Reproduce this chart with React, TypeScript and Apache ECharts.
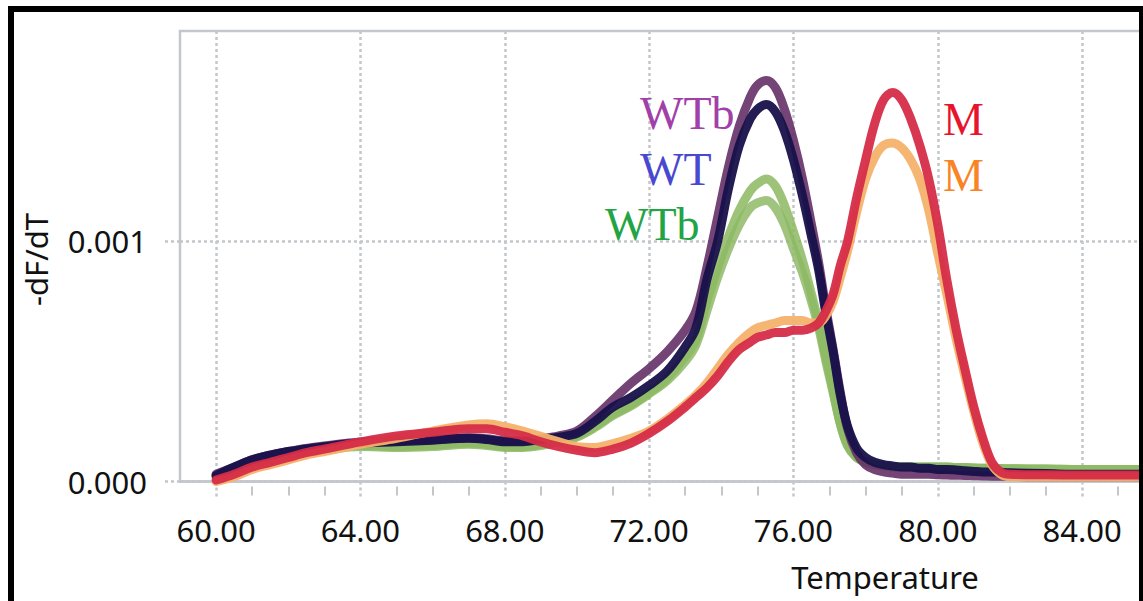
import React, { useEffect, useRef } from 'react';
import * as echarts from 'echarts';

const temps = [60, 60.5, 61, 61.5, 62, 62.5, 63, 64, 65, 66, 67, 67.5, 68, 68.5, 69, 69.5, 70, 70.5, 71, 71.5, 72, 72.5, 73, 73.3, 73.6, 73.9, 74.2, 74.5, 74.8, 75.0, 75.25, 75.5, 75.75, 76.0, 76.25, 76.5, 76.7, 76.9, 77.1, 77.3, 77.5, 77.75, 78.0, 78.25, 78.5, 78.75, 79.0, 79.25, 79.5, 79.75, 80.0, 80.25, 80.5, 80.75, 81.0, 81.25, 81.5, 81.75, 82, 83, 84, 85, 85.66];

const wtbGreenB = [0.00002, 0.00005, 0.00008, 0.0001, 0.000112, 0.000122, 0.000132, 0.000146, 0.000142, 0.000146, 0.000155, 0.00015, 0.000142, 0.000142, 0.00015, 0.000165, 0.000185, 0.000225, 0.000275, 0.000315, 0.000365, 0.00042, 0.0005, 0.00057, 0.00071, 0.00085, 0.00097, 0.00107, 0.00114, 0.00116, 0.00117, 0.00114, 0.00107, 0.00097, 0.00087, 0.00075, 0.00064, 0.0005, 0.00037, 0.00024, 0.00015, 0.0001, 0.00008, 0.00007, 0.000065, 0.00006, 0.00006, 0.00006, 0.00006, 0.00006, 0.00006, 0.00006, 0.000058, 0.000058, 0.000056, 0.000055, 0.000055, 0.000054, 0.000053, 0.000052, 0.00005, 0.00005, 0.00005];
const wtbGreenA = [0.00002, 0.00005, 0.00008, 0.0001, 0.000115, 0.000125, 0.000135, 0.00015, 0.000145, 0.00015, 0.00016, 0.000155, 0.000145, 0.000145, 0.000155, 0.00017, 0.00019, 0.00023, 0.00028, 0.00032, 0.00037, 0.00043, 0.00052, 0.00059, 0.00075, 0.00089, 0.00102, 0.00113, 0.00121, 0.00124, 0.00126, 0.00123, 0.00115, 0.00104, 0.00092, 0.00078, 0.00066, 0.00052, 0.00038, 0.00024, 0.00015, 0.0001, 0.00008, 0.00007, 0.000065, 0.00006, 0.00006, 0.00006, 0.00006, 0.00006, 0.00006, 0.00006, 0.000058, 0.000058, 0.000056, 0.000055, 0.000055, 0.000054, 0.000053, 0.000052, 0.00005, 0.00005, 0.00005];
const wtbPurple = [0.00003, 0.00006, 0.00009, 0.00011, 0.000125, 0.000138, 0.000148, 0.000165, 0.00017, 0.000175, 0.000182, 0.000178, 0.00017, 0.00017, 0.000178, 0.00019, 0.00021, 0.00027, 0.00034, 0.00041, 0.00047, 0.00054, 0.00063, 0.00071, 0.00089, 0.0011, 0.00131, 0.00148, 0.0016, 0.00165, 0.00167, 0.00164, 0.00155, 0.00142, 0.00126, 0.00107, 0.00091, 0.00072, 0.00055, 0.00037, 0.00022, 0.00012, 0.00007, 0.00005, 0.00004, 0.000035, 0.00003, 0.00003, 0.00003, 0.00003, 0.000028, 0.000027, 0.000026, 0.000025, 0.000024, 0.000023, 0.000022, 0.000022, 0.000021, 0.00002, 0.00002, 0.00002, 0.00002];
const wtNavy = [0.000025, 0.00006, 0.00009, 0.00011, 0.000125, 0.000135, 0.000145, 0.00016, 0.000165, 0.000172, 0.00018, 0.000175, 0.000166, 0.000166, 0.000175, 0.000185, 0.0002, 0.00025, 0.00031, 0.00035, 0.0004, 0.00046, 0.00056, 0.00064, 0.00084, 0.001, 0.00122, 0.0014, 0.00151, 0.00155, 0.00157, 0.00154, 0.00146, 0.00134, 0.00119, 0.00102, 0.00088, 0.0007, 0.00054, 0.00036, 0.00023, 0.00014, 0.0001, 0.00008, 0.00007, 0.000065, 0.00006, 0.00006, 0.000055, 0.000055, 0.00005, 0.00005, 0.000048, 0.000045, 0.000042, 0.00004, 0.00004, 0.000038, 0.000036, 0.000033, 0.00003, 0.00003, 0.00003];
const mOrange = [0.0, 0.00002, 0.00005, 0.00007, 0.00009, 0.00011, 0.000125, 0.000155, 0.00018, 0.00021, 0.000235, 0.00024, 0.000228, 0.00021, 0.000188, 0.000165, 0.000145, 0.000142, 0.000158, 0.00018, 0.00021, 0.00026, 0.00032, 0.00036, 0.00041, 0.00047, 0.00053, 0.00058, 0.00062, 0.00064, 0.00065, 0.00066, 0.00067, 0.00067, 0.00067, 0.00066, 0.00066, 0.00069, 0.00075, 0.00085, 0.00096, 0.00112, 0.00126, 0.00135, 0.0014, 0.00141, 0.00139, 0.00134, 0.00126, 0.00113, 0.00095, 0.00078, 0.0006, 0.00044, 0.00029, 0.00016, 0.00007, 0.00003, 0.00002, 0.00002, 0.00002, 0.00002, 0.00002];
const mRed = [0.000006, 0.00003, 0.00006, 0.00008, 0.0001, 0.00012, 0.000135, 0.000165, 0.00019, 0.000205, 0.00022, 0.00022, 0.000205, 0.00019, 0.000165, 0.000145, 0.00013, 0.00012, 0.000135, 0.00016, 0.0002, 0.00025, 0.00031, 0.00035, 0.00039, 0.00044, 0.0005, 0.00055, 0.00058, 0.0006, 0.00061, 0.00062, 0.00062, 0.00063, 0.00063, 0.00064, 0.00066, 0.00071, 0.00078, 0.0009, 0.001, 0.00118, 0.00134, 0.00149, 0.00159, 0.00162, 0.00159, 0.00151, 0.0014, 0.00126, 0.00107, 0.00084, 0.00064, 0.00047, 0.00031, 0.00018, 0.00008, 0.00004, 0.00003, 0.000028, 0.000027, 0.000027, 0.000027];

const xTickValues = [60, 64, 68, 72, 76, 80, 84];
const xMinorTickValues = [61, 62, 63, 65, 66, 67, 69, 70, 71, 73, 74, 75, 77, 78, 79, 81, 82, 83, 85];
const yTickValues = [0, 0.001];

const seriesDefs = [
  { name: 'WTb green B', values: wtbGreenB, color: '#8fba67', opacity: 0.85 },
  { name: 'WTb green A', values: wtbGreenA, color: '#8cb862', opacity: 0.85 },
  { name: 'WTb purple', values: wtbPurple, color: '#643066', opacity: 0.9 },
  { name: 'WT', values: wtNavy, color: '#17114a', opacity: 0.95 },
  { name: 'M orange', values: mOrange, color: '#f5b26c', opacity: 0.95 },
  { name: 'M red', values: mRed, color: '#d52c47', opacity: 0.95 },
];

const labelTexts = [
  { text: 'WTb', x: 640, y: 113, color: '#a040a8' },
  { text: 'WT', x: 640, y: 169, color: '#4848d0' },
  { text: 'WTb', x: 605, y: 224, color: '#22a444' },
  { text: 'M', x: 943, y: 119, color: '#e8142c' },
  { text: 'M', x: 943, y: 175, color: '#f88424' },
];

const GRID_COLOR = '#c3c7cb';
const AXIS_FONT = 'Noto Sans';

export default function App() {
  const ref = useRef<HTMLDivElement>(null);
  useEffect(() => {
    if (!ref.current) return;
    const chart = echarts.init(ref.current, null, { renderer: 'svg' });
    const option: any = {
      animation: false,
      backgroundColor: '#ffffff',
      grid: {
        left: 180,
        top: 31,
        right: 1,
        bottom: 119.5,
        show: true,
        borderColor: GRID_COLOR,
        borderWidth: 2.5,
        containLabel: false,
        outerBoundsMode: 'none',
      },
      xAxis: [
        {
          type: 'value',
          min: 59,
          max: 85.66,
          offset: 5,
          position: 'bottom',
          axisLine: { show: true, lineStyle: { color: GRID_COLOR, width: 2.5 } },
          axisTick: {
            show: true,
            customValues: xTickValues,
            length: 18,
            lineStyle: { color: GRID_COLOR, width: 2.5, type: [3, 3] },
          },
          axisLabel: {
            customValues: xTickValues,
            formatter: (v: number) => v.toFixed(2),
            margin: 28,
            fontSize: 31,
            fontFamily: AXIS_FONT,
            color: '#111',
          },
          splitLine: { show: true, lineStyle: { color: GRID_COLOR, width: 2.5, type: [3, 3] } },
        },
        {
          type: 'value',
          min: 59,
          max: 85.66,
          offset: 5,
          position: 'bottom',
          axisLine: { show: false },
          axisTick: {
            show: true,
            customValues: xMinorTickValues,
            length: 9,
            lineStyle: { color: GRID_COLOR, width: 2 },
          },
          axisLabel: { show: false },
          splitLine: { show: false },
        },
      ],
      yAxis: {
        type: 'value',
        min: 0,
        max: 0.001876,
        axisLine: { show: false },
        axisTick: {
          show: true,
          customValues: yTickValues,
          length: 18,
          lineStyle: { color: GRID_COLOR, width: 2.5, type: [3, 3] },
        },
        axisLabel: {
          customValues: yTickValues,
          formatter: (v: number) => v.toFixed(3),
          margin: 33,
          fontSize: 31,
          fontFamily: AXIS_FONT,
          color: '#111',
        },
        splitLine: { show: true, lineStyle: { color: GRID_COLOR, width: 2.5, type: [3, 3] } },
      },
      series: seriesDefs.map((s) => ({
        name: s.name,
        type: 'line',
        xAxisIndex: 0,
        yAxisIndex: 0,
        smooth: 0.35,
        symbol: 'none',
        showSymbol: false,
        lineStyle: { width: 9, color: s.color, opacity: s.opacity, cap: 'round', join: 'round' },
        data: temps.map((t, i) => [t, s.values[i]]),
      })),
      graphic: [
        ...labelTexts.map((l) => ({
          type: 'text',
          x: l.x,
          y: l.y,
          z: 50,
          style: {
            text: l.text,
            fill: l.color,
            font: '46px "Liberation Serif", serif',
            align: 'left',
            verticalAlign: 'middle',
          },
        })),
        {
          type: 'text',
          x: 36,
          y: 259.5,
          rotation: Math.PI / 2,
          z: 50,
          style: {
            text: '-dF/dT',
            fill: '#111',
            font: '31px "Noto Sans"',
            align: 'center',
            verticalAlign: 'middle',
          },
        },
        {
          type: 'text',
          x: 885,
          y: 577,
          z: 50,
          style: {
            text: 'Temperature',
            fill: '#111',
            font: '31px "Noto Sans"',
            align: 'center',
            verticalAlign: 'middle',
          },
        },
        {
          type: 'rect',
          z: 100,
          shape: { x: 11, y: 9, width: 1131, height: 700 },
          style: { fill: 'none', stroke: '#000', lineWidth: 6 },
        },
      ],
    };
    chart.setOption(option);
    return () => chart.dispose();
  }, []);
  return (
    <div
      ref={ref}
      style={{ position: 'fixed', left: 0, top: 0, width: 1143, height: 601, background: '#fff' }}
    />
  );
}
